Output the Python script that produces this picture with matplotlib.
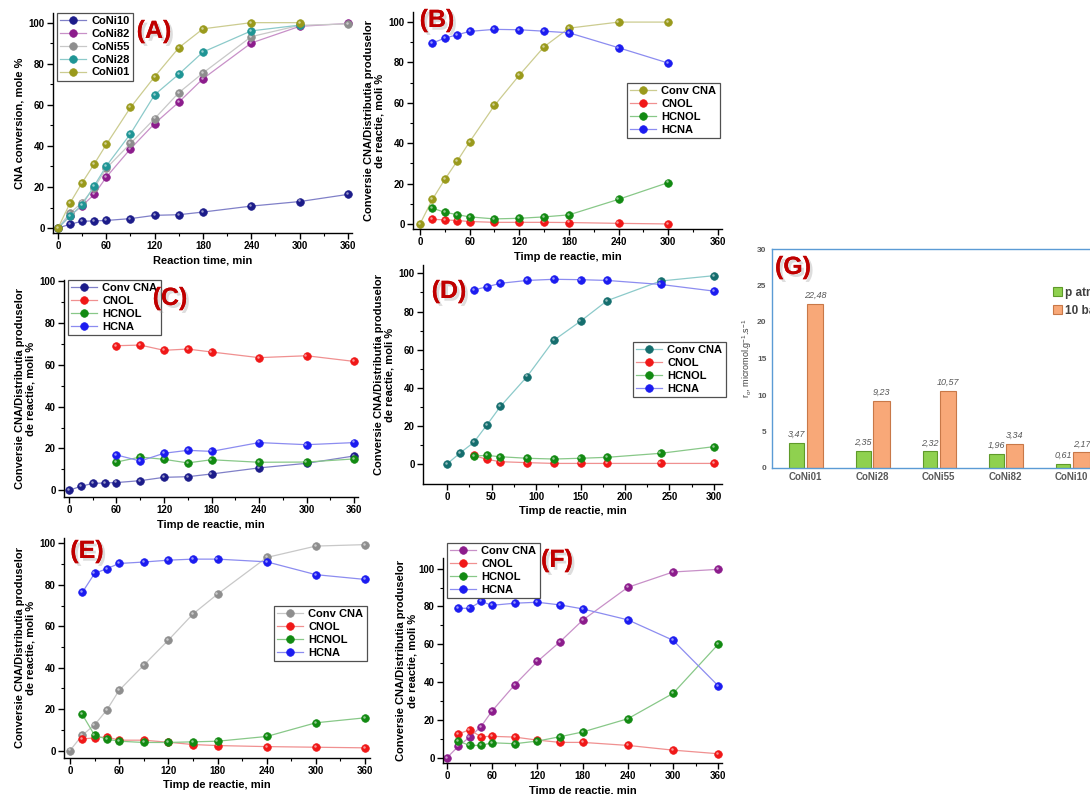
import numpy as np
import matplotlib
matplotlib.use('Agg')
import matplotlib.pyplot as plt
import matplotlib.patheffects as pe
from matplotlib.transforms import offset_copy

plt.rcParams['font.family'] = ['Liberation Sans', 'DejaVu Sans']
plt.rcParams['font.weight'] = 'bold'
plt.rcParams['mathtext.default'] = 'regular'

# timpi de reactie (min)
t_full = [0, 15, 30, 45, 60, 90, 120, 150, 180, 240, 300, 360]
t_300 = [0, 15, 30, 45, 60, 90, 120, 150, 180, 240, 300]
t_prod = [15, 30, 45, 60, 90, 120, 150, 180, 240, 300, 360]
t_prod_300 = [15, 30, 45, 60, 90, 120, 150, 180, 240, 300]
t_prod_c = [60, 90, 120, 150, 180, 240, 300, 360]
t_prod_d = [30, 45, 60, 90, 120, 150, 180, 240, 300]

# conversii CNA
conv_coni10 = [0, 1.9, 3.3, 3.5, 3.7, 4.6, 6.2, 6.5, 7.8, 10.7, 12.9, 16.4]
conv_coni82 = [0, 6.0, 10.9, 16.4, 24.8, 38.6, 50.9, 61.3, 72.7, 90.1, 98.2, 99.6]
conv_coni55 = [0, 7.4, 12.4, 19.6, 29.1, 41.2, 53.3, 65.9, 75.5, 93.2, 98.7, 99.4]
conv_coni28 = [0, 5.9, 11.3, 20.6, 30.2, 45.9, 64.9, 74.9, 85.7, 96.0, 98.8]
conv_coni01 = [0, 12.2, 22.1, 31.2, 40.7, 58.7, 73.7, 87.8, 97.0, 100, 100]

# (B) CoNi01
b_cnol = [2.3, 2.0, 1.7, 1.2, 0.8, 0.8, 0.8, 0.7, 0.3, 0.0]
b_hcnol = [7.8, 5.8, 4.6, 3.5, 2.5, 2.8, 3.5, 4.5, 12.2, 20.5]
b_hcna = [89.6, 92.1, 93.7, 95.4, 96.4, 96.2, 95.5, 94.7, 87.3, 79.7]

# (C) CoNi10
c_cnol = [69.1, 69.4, 66.9, 67.5, 66.1, 63.4, 64.3, 61.6]
c_hcnol = [13.5, 15.9, 14.8, 13.1, 14.6, 13.4, 13.5, 15.0]
c_hcna = [16.9, 14.0, 17.7, 19.1, 18.6, 22.8, 21.8, 22.8]

# (D) CoNi28
d_cnol = [4.5, 2.4, 1.2, 0.7, 0.3, 0.3, 0.3, 0.3, 0.3]
d_hcnol = [4.2, 4.5, 3.8, 3.0, 2.6, 3.0, 3.5, 5.6, 9.1]
d_hcna = [91.3, 93.0, 94.8, 96.3, 96.9, 96.7, 96.3, 94.2, 90.7]

# (E) CoNi55
e_cnol = [5.6, 6.1, 6.6, 5.0, 5.0, 4.0, 2.9, 2.4, 1.9, 1.6, 1.3]
e_hcnol = [17.4, 7.4, 5.5, 4.5, 3.9, 3.9, 4.2, 4.5, 6.8, 13.4, 15.8]
e_hcna = [76.3, 85.5, 87.8, 90.3, 91.0, 91.9, 92.4, 92.4, 91.1, 84.9, 82.6]

# (F) CoNi82
f_cnol = [12.5, 14.8, 11.1, 11.3, 10.9, 9.3, 8.1, 8.1, 6.5, 4.0, 2.1]
f_hcnol = [8.8, 6.5, 6.5, 7.9, 7.4, 8.8, 11.1, 13.6, 20.6, 34.0, 60.0]
f_hcna = [79.0, 79.0, 82.6, 80.6, 81.7, 82.2, 80.8, 78.7, 72.9, 62.1, 38.0]

# (G) viteze initiale
catalysts = ['CoNi01', 'CoNi28', 'CoNi55', 'CoNi82', 'CoNi10']
r0_atm = [3.47, 2.35, 2.32, 1.96, 0.61]
r0_10bar = [22.48, 9.23, 10.57, 3.34, 2.17]

# culori (marker, linie)
NAVY = ('#1c1c8a', '#8080c8')
PURPLE = ('#8c1c8c', '#c890c8')
GRAY = ('#8e8e8e', '#c8c8c8')
TEAL = ('#1f9595', '#8ccaca')
DTEAL = ('#156e6e', '#8ccaca')
OLIVE = ('#9a9a1c', '#cccc90')
RED = ('#f01818', '#f09090')
GREEN = ('#128a12', '#88c888')
BLUE = ('#1c1cf0', '#8c8cf0')

LBL_RO = 'Conversie CNA/Distributia produselor\nde reactie, moli %'
XL_RO = 'Timp de reactie, min'

fig = plt.figure(figsize=(10.9, 7.94), dpi=100)


def px_axes(left, top, right, bottom):
    return fig.add_axes([left / 1090, 1 - bottom / 794, (right - left) / 1090, (bottom - top) / 794])


# marker "bila" ca in Origin: cerc plin + mic reflex alb
def ball(ax, x, y, col, label=None):
    c, lc = col
    ax.plot(x, y, '-', color=lc, lw=0.9, marker='o', ms=5.5, mfc=c, mec=c, mew=0.5, label=label)
    hl = offset_copy(ax.transData, fig=fig, x=-1.1, y=1.1, units='dots')
    ax.plot(x, y, 'o', ms=1.8, color='white', alpha=0.55, mec='none', transform=hl)


def style(ax, xlim, ylim, xmaj, xmin, xlabel, ylabel, ylpad=3):
    ax.set_xlim(*xlim)
    ax.set_ylim(*ylim)
    ax.spines['top'].set_visible(False)
    ax.spines['right'].set_visible(False)
    for s in ['left', 'bottom']:
        ax.spines[s].set_linewidth(1.0)
    ax.set_xticks(xmaj)
    ax.set_xticks(xmin, minor=True)
    ax.set_yticks([0, 20, 40, 60, 80, 100])
    ax.set_yticks([10, 30, 50, 70, 90], minor=True)
    ax.tick_params(which='major', direction='out', length=4, width=1, labelsize=7, pad=2)
    ax.tick_params(which='minor', direction='out', length=2, width=0.8)
    ax.set_xlabel(xlabel, fontsize=8, fontweight='bold', labelpad=3)
    ax.set_ylabel(ylabel, fontsize=8, fontweight='bold', labelpad=ylpad, linespacing=1.1)


def leg(ax, x, y):
    l = ax.legend(loc='upper left', bbox_to_anchor=(x / 1090, 1 - y / 794),
                  bbox_transform=fig.transFigure, fontsize=8, frameon=True, fancybox=False,
                  handlelength=2.3, handletextpad=0.5, labelspacing=0.25, borderpad=0.3,
                  borderaxespad=0)
    l.get_frame().set_edgecolor('#505050')
    l.get_frame().set_linewidth(0.9)
    l.get_frame().set_alpha(1)


def panel(x, y, s):
    fig.text(x / 1090, 1 - y / 794, s, color='#c00000', fontsize=18, fontweight='bold',
             ha='center', va='center',
             path_effects=[pe.withSimplePatchShadow(offset=(2, -2), shadow_rgbFace='#a0a0a0', alpha=0.35),
                           pe.Normal()])


x60 = [0, 60, 120, 180, 240, 300, 360]
x30 = [30, 90, 150, 210, 270, 330]

# (A)
ax = px_axes(53, 13, 352, 233)
ball(ax, t_full, conv_coni10, NAVY, 'CoNi10')
ball(ax, t_full, conv_coni82, PURPLE, 'CoNi82')
ball(ax, t_full, conv_coni55, GRAY, 'CoNi55')
ball(ax, t_300, conv_coni28, TEAL, 'CoNi28')
ball(ax, t_300, conv_coni01, OLIVE, 'CoNi01')
style(ax, (-6.2, 365), (-2.4, 104.7), x60, x30, 'Reaction time, min', 'CNA conversion, mole %')
leg(ax, 57, 13)
panel(154, 31, '(A)')

# (B)
ax = px_axes(413, 12, 722, 229)
ball(ax, t_300, conv_coni01, OLIVE, 'Conv CNA')
ball(ax, t_prod_300, b_cnol, RED, 'CNOL')
ball(ax, t_prod_300, b_hcnol, GREEN, 'HCNOL')
ball(ax, t_prod_300, b_hcna, BLUE, 'HCNA')
style(ax, (-8.5, 365), (-2.5, 105), x60, x30, XL_RO, LBL_RO)
leg(ax, 627, 83)
panel(437, 20, '(B)')

# (C)
ax = px_axes(64, 280, 358, 497)
ball(ax, t_full, conv_coni10, NAVY, 'Conv CNA')
ball(ax, t_prod_c, c_cnol, RED, 'CNOL')
ball(ax, t_prod_c, c_hcnol, GREEN, 'HCNOL')
ball(ax, t_prod_c, c_hcna, BLUE, 'HCNA')
style(ax, (-6.3, 365), (-3.2, 100.5), x60, x30, XL_RO, LBL_RO)
leg(ax, 68, 280)
panel(170, 298, '(C)')

# (D)
ax = px_axes(423, 265, 722, 484)
ball(ax, t_300, conv_coni28, DTEAL, 'Conv CNA')
ball(ax, t_prod_d, d_cnol, RED, 'CNOL')
ball(ax, t_prod_d, d_hcnol, GREEN, 'HCNOL')
ball(ax, t_prod_d, d_hcna, BLUE, 'HCNA')
style(ax, (-27, 309), (-10.5, 104.4), [0, 50, 100, 150, 200, 250, 300],
      [25, 75, 125, 175, 225, 275], XL_RO, LBL_RO)
leg(ax, 633, 342)
panel(449, 291, '(D)')

# (E)
ax = px_axes(64, 538, 370, 758)
ball(ax, t_full, conv_coni55, GRAY, 'Conv CNA')
ball(ax, t_prod, e_cnol, RED, 'CNOL')
ball(ax, t_prod, e_hcnol, GREEN, 'HCNOL')
ball(ax, t_prod, e_hcna, BLUE, 'HCNA')
style(ax, (-7.3, 366), (-3.6, 102.6), x60, x30, XL_RO, LBL_RO)
leg(ax, 274, 606)
panel(87, 551, '(E)')

# (F)
ax = px_axes(443, 558, 722, 763)
ball(ax, t_full, conv_coni82, PURPLE, 'Conv CNA')
ball(ax, t_prod, f_cnol, RED, 'CNOL')
ball(ax, t_prod, f_hcnol, GREEN, 'HCNOL')
ball(ax, t_prod, f_hcna, BLUE, 'HCNA')
style(ax, (-5.3, 365), (-2.8, 105.6), x60, x30, XL_RO, LBL_RO, ylpad=1)
leg(ax, 447, 543)
panel(557, 560, '(F)')

# (G) bare - figura taiata la dreapta ca in original
ax = px_axes(772, 249, 1105, 468)
xi = np.arange(len(catalysts))
ax.bar(xi - 0.13, r0_atm, width=0.22, color='#8fd14f', edgecolor='#5f9a2a', lw=0.8, label='p atm')
ax.bar(xi + 0.145, r0_10bar, width=0.25, color='#f8a878', edgecolor='#c87848', lw=0.8, label='10 bar')
for i in xi:
    ax.text(i - 0.13, r0_atm[i] + 0.5, f'{r0_atm[i]:.2f}'.replace('.', ','), ha='center', va='bottom',
            fontsize=6.5, style='italic', fontweight='normal', color='#595959')
    ax.text(i + 0.145, r0_10bar[i] + 0.5, f'{r0_10bar[i]:.2f}'.replace('.', ','), ha='center', va='bottom',
            fontsize=6.5, style='italic', fontweight='normal', color='#595959')
ax.set_xlim(-0.5, 4.5)
ax.set_ylim(0, 30)
ax.set_yticks([0, 5, 10, 15, 20, 25, 30])
ax.set_xticks(xi)
ax.set_xticklabels(catalysts)
for s in ['top', 'left', 'right', 'bottom']:
    ax.spines[s].set_color('#5b9bd5')
    ax.spines[s].set_linewidth(1.0)
ax.tick_params(axis='y', length=0, labelsize=6, labelcolor='#595959', pad=4)
ax.tick_params(axis='x', length=0, labelsize=7, labelcolor='#595959', pad=3)
ax.set_ylabel(r'$r_{o}$, micromol.g$^{-1}$.s$^{-1}$', fontsize=6.5, color='#404040', labelpad=2)
lg = ax.legend(loc='upper left', bbox_to_anchor=(1048 / 1090, 1 - 282 / 794), bbox_transform=fig.transFigure,
               frameon=False, fontsize=8.5, handlelength=0.8, handleheight=0.8, handletextpad=0.2,
               labelspacing=0.5, borderaxespad=0)
for tx in lg.get_texts():
    tx.set_color('#404040')
panel(793, 267, '(G)')

fig.savefig('out.png', dpi=100)
